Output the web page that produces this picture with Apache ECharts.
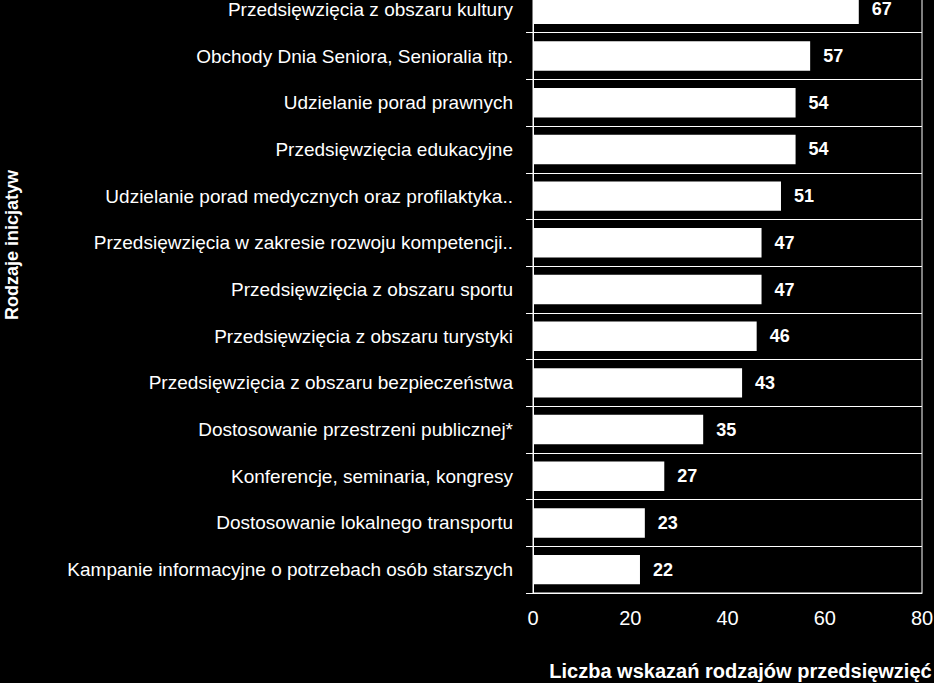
<!DOCTYPE html>
<html>
<head>
<meta charset="utf-8">
<style>
  html, body { margin: 0; padding: 0; background: #000; }
  #chart { width: 934px; height: 683px; }
</style>
<script src="https://cdn.jsdelivr.net/npm/echarts@6/dist/echarts.min.js"></script>
</head>
<body>
<div id="chart"></div>
<script>
var categories = [
  'Przedsięwzięcia z obszaru kultury',
  'Obchody Dnia Seniora, Senioralia itp.',
  'Udzielanie porad prawnych',
  'Przedsięwzięcia edukacyjne',
  'Udzielanie porad medycznych oraz profilaktyka..',
  'Przedsięwzięcia w zakresie rozwoju kompetencji..',
  'Przedsięwzięcia z obszaru sportu',
  'Przedsięwzięcia z obszaru turystyki',
  'Przedsięwzięcia z obszaru bezpieczeństwa',
  'Dostosowanie przestrzeni publicznej*',
  'Konferencje, seminaria, kongresy',
  'Dostosowanie lokalnego transportu',
  'Kampanie informacyjne o potrzebach osób starszych'
];
var values = [67, 57, 54, 54, 51, 47, 47, 46, 43, 35, 27, 23, 22];
var xTicks = [0, 20, 40, 60, 80];

var font = '"Liberation Sans", Arial, sans-serif';

var chart = echarts.init(document.getElementById('chart'), null, { renderer: 'svg' });
chart.setOption({
  animation: false,
  backgroundColor: '#000',
  textStyle: { fontFamily: font },
  grid: {
    left: 533, right: 12, top: -14, bottom: 90,
    outerBoundsMode: 'none',
    containLabel: false,
    show: true, borderColor: '#fff', borderWidth: 1
  },
  graphic: [{
    type: 'text',
    x: 12, y: 245,
    rotation: Math.PI / 2,
    style: {
      text: 'Rodzaje inicjatyw',
      fill: '#fff',
      font: 'bold 18px ' + font,
      align: 'center',
      verticalAlign: 'middle'
    }
  }],
  xAxis: {
    type: 'value',
    min: xTicks[0],
    max: xTicks[xTicks.length - 1],
    interval: 20,
    axisLine: { show: true, lineStyle: { color: '#fff', width: 1 } },
    axisTick: { show: false },
    splitLine: { show: false },
    axisLabel: { color: '#fff', fontSize: 20, margin: 15, fontFamily: font },
    name: 'Liczba wskazań rodzajów przedsięwzięć',
    nameLocation: 'middle',
    nameGap: 68,
    nameTextStyle: { color: '#fff', fontSize: 20, fontWeight: 'bold', fontFamily: font, padding: [0, 0, 0, 26] }
  },
  yAxis: {
    type: 'category',
    inverse: true,
    data: categories,
    axisLine: { show: true, lineStyle: { color: '#fff', width: 1 } },
    axisTick: { show: true, length: 7, lineStyle: { color: '#fff' } },
    splitLine: { show: true, lineStyle: { color: '#fff', width: 1 } },
    axisLabel: { color: '#fff', fontSize: 19, margin: 20, fontFamily: font }
  },
  series: [{
    type: 'bar',
    data: values,
    barCategoryGap: '37%',
    itemStyle: { color: '#fff' },
    label: {
      show: true,
      position: 'right',
      distance: 13,
      color: '#fff',
      fontSize: 18,
      fontWeight: 'bold',
      fontFamily: font
    }
  }]
});
</script>
</body>
</html>
